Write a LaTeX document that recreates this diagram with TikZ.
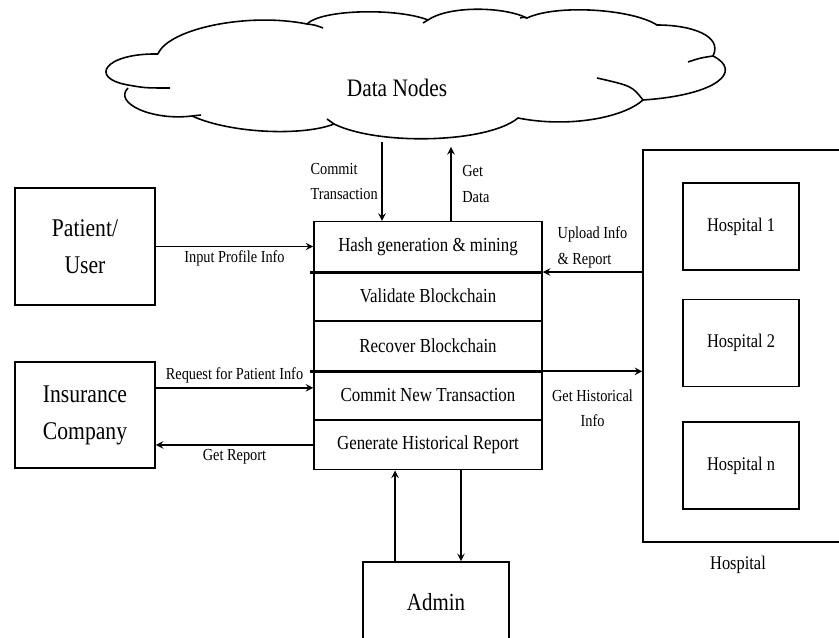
\documentclass[tikz,border=0pt]{standalone}
\usepackage{fontspec}
\setmainfont[FakeStretch=0.85]{Liberation Serif}
\usetikzlibrary{arrows.meta,positioning}
\tikzset{>=stealth}
\tikzset{
	box/.style={draw,line width=0.9pt,inner sep=0pt,align=center},
	row/.style={box,minimum width=4.56cm,minimum height=0.992cm,font=\fontsize{11.3}{13}\selectfont},
	hbox/.style={box,minimum width=2.32cm,minimum height=1.74cm,font=\fontsize{11}{13}\selectfont},
	lbl/.style={font=\fontsize{9.6}{14.5}\selectfont,inner sep=2pt}
}

\begin{document}
\begin{tikzpicture}[x=0.02cm,y=-0.02cm,line width=0.9pt]
			\clip (0,0) rectangle (839,638);
			\draw (158,54) .. controls +(10,-25) and +(-60,-12) .. (307,24)
				.. controls +(15,-15) and +(-30,-12) .. (428,20)
				.. controls +(20,-14) and +(-25,-12) .. (527,18)
				.. controls +(30,-14) and +(-25,-16) .. (657,25)
				.. controls +(35,0) and +(10,-20) .. (713,56)
				.. controls +(30,15) and +(75,-5) .. (643,100)
				.. controls +(-20,18) and +(50,10) .. (518,118)
				.. controls +(-30,25) and +(45,22) .. (334,124)
				.. controls +(-30,12) and +(40,18) .. (192,116)
				.. controls +(-40,5) and +(-15,15) .. (128,88);
			\draw (158,54) .. controls (105,53) and (88,78) .. (128,85) .. controls (145,88) .. (170,88);
			\draw (643,100) .. controls (632,86) .. (597,78);
			\draw (713,56) .. controls (700,58) .. (688,62);
			\draw (307,24) .. controls (315,25) .. (323,28);
			\draw (428,20) .. controls (426,21) .. (423,23);
			\draw (527,18) .. controls (523,17) .. (520,18);
			\draw (334,124) .. controls (330,121) .. (327,119);
			\draw (192,116) .. controls (196,115) .. (201,115);
			\coordinate (cloud) at (415,142);
			\node[font=\fontsize{14.3}{16}\selectfont] (datanodes) at (397,88) {Data Nodes};
			\node[box,minimum width=2.8cm,minimum height=2.34cm,font=\fontsize{14.5}{21}\selectfont] (patient) at (85,246.5) {Patient/\\User};
			\node[box,minimum width=2.8cm,minimum height=2.12cm,font=\fontsize{14.5}{21}\selectfont] (insurance) at (85,415) {Insurance\\Company};
			\foreach \nm/\txt [count=\i from 0] in {hash/Hash generation \& mining,validate/Validate Blockchain,recover/Recover Blockchain,commit/Commit New Transaction,generate/Generate Historical Report}
			\node[row] (\nm) at (428,246.5+49.6*\i) {\txt};
			\draw[line width=1.8pt] ([xshift=-2pt]hash.south west) -- (hash.south east);
			\draw[line width=1.8pt] ([xshift=-2pt]recover.south west) -- (recover.south east);
			\node[box,minimum width=4.74cm,minimum height=7.84cm] (hospital) at (761.5,346) {};
			\foreach \h/\y in {1/226.5,2/343,n/465.5}
			\node[hbox] (hosp\h) at (741,\y) {Hospital \h};
			\node[font=\fontsize{11}{13}\selectfont] (hosplabel) at (738,565) {Hospital};
			\node[box,minimum width=2.92cm,minimum height=1.6cm,font=\fontsize{14}{16}\selectfont] (admin) at (436,602) {Admin};
			\draw[->] (patient.east) -- (hash.west) node[lbl,midway,below] {Input Profile Info};
			\coordinate (req) at ([yshift=0.15cm]commit.west);
			\draw[->] (req -| insurance.east) -- (req) node[lbl,midway,above] {Request for Patient Info};
			\draw[->] (generate.west) -- (generate.west -| insurance.east) node[lbl,midway,below] {Get Report};
			\coordinate (ct) at ([xshift=-0.92cm]hash.north);
			\draw[->] (ct |- cloud) -- (ct) node[lbl,midway,left,align=left] {Commit\\Transaction};
			\coordinate (gd) at ([xshift=0.46cm]hash.north);
			\draw[->] (gd) -- ([yshift=-0.1cm]gd |- cloud) node[lbl,midway,right=4pt,align=left] {Get\\Data};
			\draw[->] (hash.south -| hospital.west) -- (hash.south east) node[lbl,midway,above,align=left] {Upload Info\\\& Report};
			\draw[->] (recover.south east) -- (recover.south east -| hospital.west) node[lbl,midway,below=8pt,align=center] {Get Historical\\Info};
			\coordinate (aup) at ([xshift=-0.82cm]admin.north);
			\draw[->] (aup) -- (aup |- generate.south);
			\coordinate (adn) at ([xshift=0.5cm]admin.north);
			\draw[->] (adn |- generate.south) -- (adn);
		\end{tikzpicture}
\end{document}
